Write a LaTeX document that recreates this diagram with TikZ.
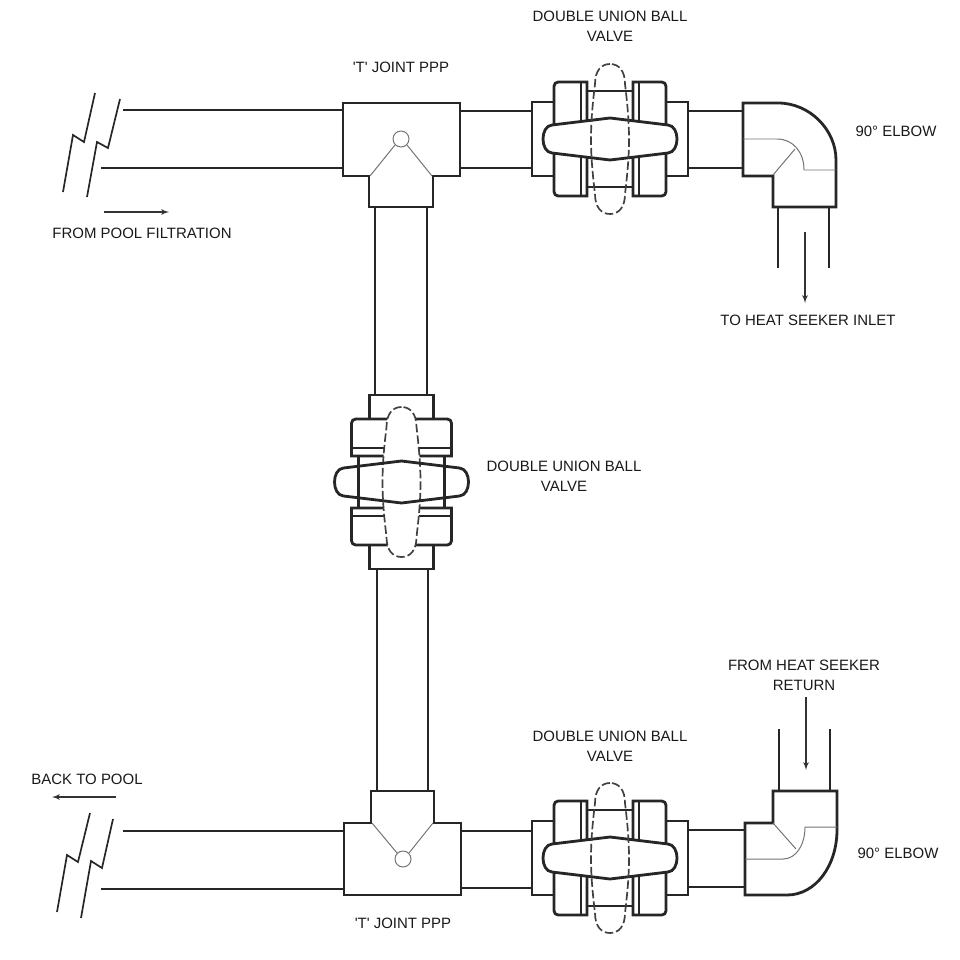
\documentclass[tikz,border=0pt]{standalone}
\usepackage{fontspec}
\setmainfont{Liberation Sans}[Ligatures=TeXOff]
\usepackage{tikz}
\usetikzlibrary{arrows}

\tikzset{
    pipe/.style={line width=2pt, black!85},
    fitting/.style={line width=2pt, black!85, line join=miter},
    thin line/.style={line width=0.7pt, black!55},
    break line/.style={line width=1.2pt, black!85},
    dash line/.style={line width=1.2pt, black!75, dash pattern=on 6pt off 2.2pt},
    flow/.style={->, >=latex', line width=0.9pt, black!80},
    label/.style={font=\fontsize{10.65pt}{14.2pt}\selectfont, black!90, align=center, inner sep=0pt}
}

% ball handle and dashed sweep of the handle, about the valve centre
\newcommand{\handleoutline}{(0, -21) -- (-58, -14) .. controls (-70, -13) and (-70, 13) .. (-58, 14) -- (0, 21) -- (58, 14) .. controls (70, 13) and (70, -13) .. (58, -14) -- cycle}
\newcommand{\sweepoutline}{(0, -75) .. controls (-9, -75) and (-15, -68) .. (-15, -55) .. controls (-18, -30) and (-19, -15) .. (-19, 0) .. controls (-19, 15) and (-18, 30) .. (-15, 55) .. controls (-15, 68) and (-9, 75) .. (0, 75) .. controls (9, 75) and (15, 68) .. (15, 55) .. controls (18, 30) and (19, 15) .. (19, 0) .. controls (19, -15) and (18, -30) .. (15, -55) .. controls (15, -68) and (9, -75) .. (0, -75)}

% body half length, body half width, nut half length,
% nut half width, inner edge, strip edge
\newcommand{\valvebody}[6]{
    \foreach \s in {-1, 1} {
        \draw [fitting] (\s*#3, -#2) -- (\s*#1, -#2) -- (\s*#1, #2) -- (\s*#3, #2);
        \draw [fitting, fill=white] (\s*#5, -#4) [rounded corners=3pt] -- (\s*#3, -#4) -- (\s*#3, #4) [sharp corners] -- (\s*#5, #4) -- cycle;
        \draw [break line] (\s*#6, -#4) -- (\s*#6, #4);
    }
}

\begin{document}
\begin{tikzpicture}[x=0.025cm, y=-0.025cm]
    \useasboundingbox (0, 0) rectangle (960, 960);

    % pipes, top run
    \draw [pipe] (123, 110) -- (343, 110);
    \draw [pipe] (101, 168) -- (343, 168);
    \draw [pipe] (460, 111) -- (531, 111);
    \draw [pipe] (460, 168) -- (531, 168);
    \draw [pipe] (687, 111) -- (744, 111);
    \draw [pipe] (687, 168) -- (744, 168);
    \draw [pipe] (778, 207) -- (778, 268);
    \draw [pipe] (829, 207) -- (829, 268);

    % pipes, riser
    \draw [pipe] (375, 207) -- (375, 395);
    \draw [pipe] (427, 207) -- (427, 395);
    \draw [pipe] (377, 570) -- (377, 791);
    \draw [pipe] (428, 570) -- (428, 791);

    % pipes, bottom run
    \draw [pipe] (123, 831) -- (344, 831);
    \draw [pipe] (101, 889) -- (344, 889);
    \draw [pipe] (461, 831) -- (532, 831);
    \draw [pipe] (461, 888) -- (532, 888);
    \draw [pipe] (687, 830) -- (745, 830);
    \draw [pipe] (687, 887) -- (745, 887);
    \draw [pipe] (779, 729) -- (779, 791);
    \draw [pipe] (830, 729) -- (830, 791);

    % pipe breaks
    \draw [break line] (95, 93) -- (84, 142) -- (73, 135) -- (63, 192);
    \draw [break line] (120, 99) -- (108, 148) -- (97, 142) -- (87, 197);
    \draw [break line] (90, 813) -- (78, 862) -- (67, 855) -- (57, 912);
    \draw [break line] (113, 819) -- (102, 868) -- (91, 861) -- (81, 918);

    % T joints
    \draw [fitting] (343, 103) -- (460, 103) -- (460, 176) -- (433, 176) -- (433, 207) -- (369, 207) -- (369, 176) -- (343, 176) -- cycle;
    \draw [thin line] (401, 139) circle (8);
    \draw [thin line] (370, 176) -- (395, 145);
    \draw [thin line] (432, 176) -- (407, 145);

    \draw [fitting] (344, 823) -- (371, 823) -- (371, 791) -- (434, 791) -- (434, 823) -- (461, 823) -- (461, 895) -- (344, 895) -- cycle;
    \draw [thin line] (403, 859) circle (8);
    \draw [thin line] (372, 823) -- (397, 853);
    \draw [thin line] (433, 823) -- (409, 853);

    % elbows
    \draw [fitting] (743, 103) -- (778, 103) .. controls (810, 103) and (836, 130) .. (836, 160) -- (836, 207) -- (773, 207) -- (773, 176) -- (743, 176) -- cycle;
    \draw [thin line] (743, 139) -- (777, 139) .. controls (793, 139) and (804, 152) .. (804, 170) -- (836, 170);
    \draw [thin line] (773, 175) -- (795, 149);

    \draw [fitting] (745, 895) -- (787, 895) .. controls (816, 895) and (837, 865) .. (837, 830) -- (837, 791) -- (773, 791) -- (773, 823) -- (745, 823) -- cycle;
    \draw [thin line] (745, 859) -- (783, 859) .. controls (796, 859) and (805, 845) .. (805, 827) -- (837, 827);
    \draw [thin line] (773, 823) -- (796, 849);

    % valves on the runs
    \foreach \cy in {139, 858} {
        \begin{scope}[shift={(610, \cy)}]
            \valvebody{78}{37}{56}{57}{23}{29}
            \draw [pipe] (-23, -48) -- (23, -48);
            \draw [pipe] (-23, 48) -- (23, 48);
            \draw [fitting, fill=white] \handleoutline;
            \draw [dash line] \sweepoutline;
        \end{scope}
    }

    % valve on the riser
    \begin{scope}[shift={(401.5, 482)}]
        \begin{scope}[rotate=90]
            \valvebody{87}{32}{63}{50}{26}{34}
        \end{scope}
        \draw [dash line, fill=white] \sweepoutline;
        \draw [pipe] (-43, -26) -- (-43, 26);
        \draw [pipe] (43, -26) -- (43, 26);
        \draw [fitting] \handleoutline;
    \end{scope}

    % flow arrows
    \coordinate (filtrationtail) at (104, 212);
    \coordinate (filtrationhead) at (169, 212);
    \coordinate (inlettail) at (805, 232);
    \coordinate (inlethead) at (805, 303);
    \coordinate (returntail) at (806, 697);
    \coordinate (returnhead) at (806, 770);
    \coordinate (pooltail) at (116, 797);
    \coordinate (poolhead) at (52, 797);
    \draw [flow] (filtrationtail) -- (filtrationhead);
    \draw [flow] (inlettail) -- (inlethead);
    \draw [flow] (returntail) -- (returnhead);
    \draw [flow] (pooltail) -- (poolhead);

    % labels
    \node [label] (valvetop) at (610, 26) {DOUBLE UNION BALL\\VALVE};
    \node [label] (teetop) at (401, 67) {'T' JOINT PPP};
    \node [label] (elbowtop) at (896, 131) {90° ELBOW};
    \node [label] (filtration) at (142, 233) {FROM POOL FILTRATION};
    \node [label] (inlet) at (808, 320) {TO HEAT SEEKER INLET};
    \node [label] (valvemid) at (564, 476) {DOUBLE UNION BALL\\VALVE};
    \node [label] (return) at (804, 675) {FROM HEAT SEEKER\\RETURN};
    \node [label] (valvebot) at (610, 746) {DOUBLE UNION BALL\\VALVE};
    \node [label] (pool) at (87, 779) {BACK TO POOL};
    \node [label] (elbowbot) at (898, 853) {90° ELBOW};
    \node [label] (teebot) at (403, 923) {'T' JOINT PPP};
\end{tikzpicture}
\end{document}
